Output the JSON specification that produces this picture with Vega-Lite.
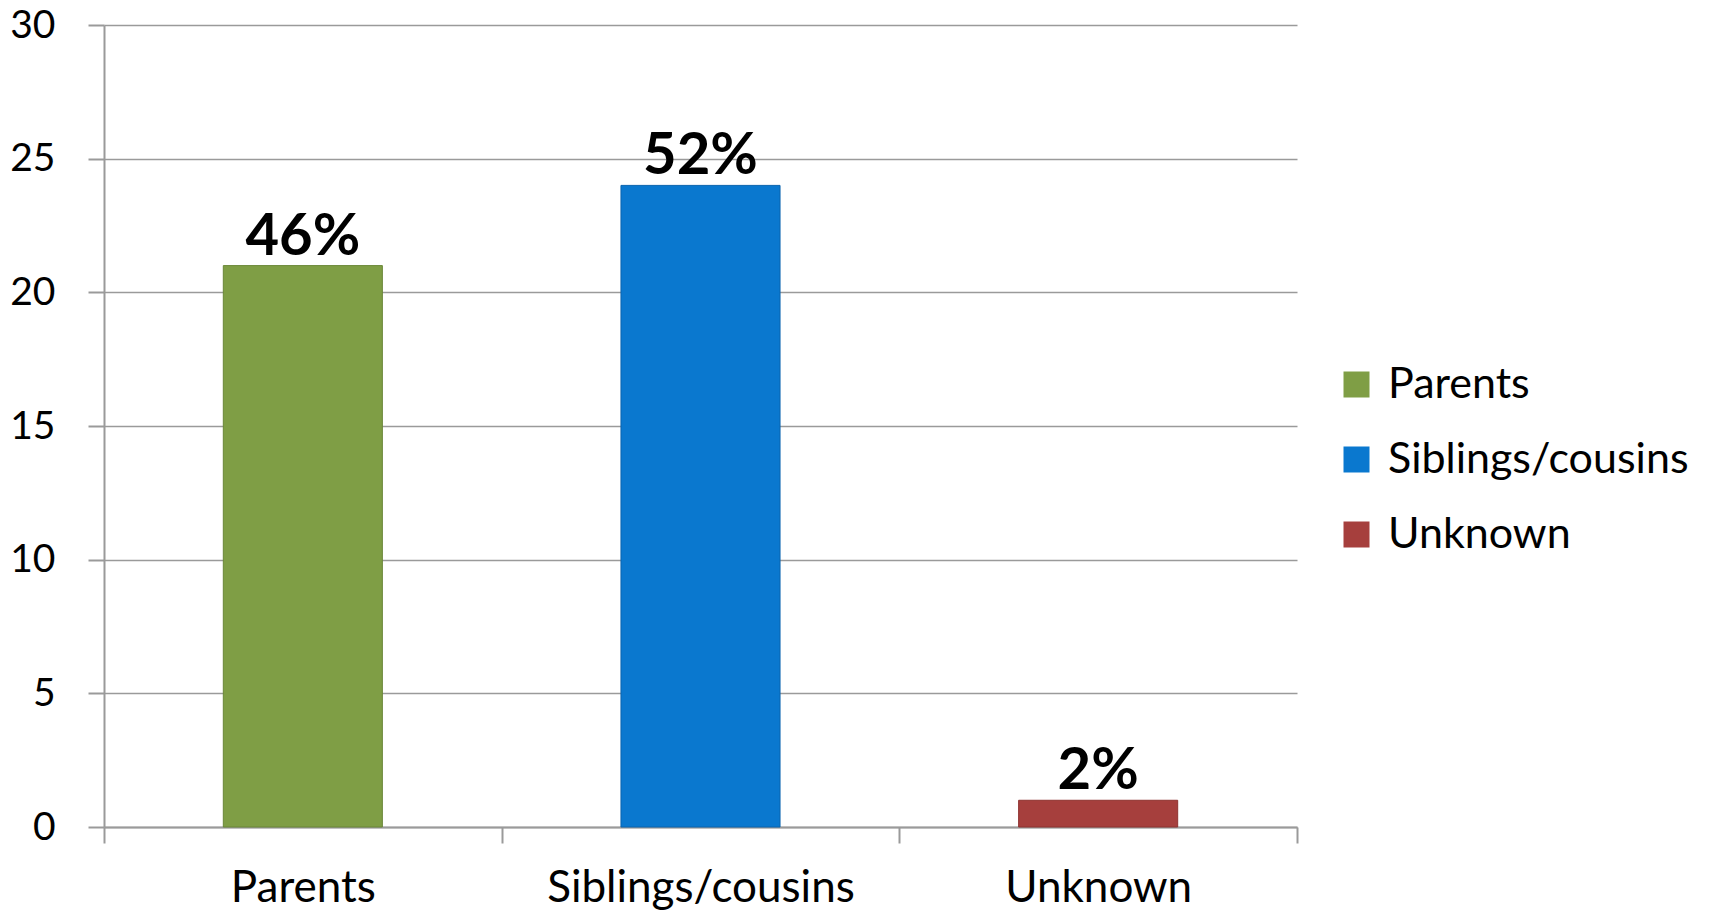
{
  "$schema": "https://vega.github.io/schema/vega-lite/v6.json",
  "autosize": "none",
  "width": 1193,
  "height": 802,
  "padding": {"left": 104, "top": 25, "right": 416, "bottom": 84},
  "background": "white",
  "config": {
    "font": "Lato",
    "view": {"stroke": null}
  },
  "data": {
    "values": [
      {"group": "Parents", "count": 21, "label": "46%"},
      {"group": "Siblings/cousins", "count": 24, "label": "52%"},
      {"group": "Unknown", "count": 1, "label": "2%"}
    ]
  },
  "encoding": {
    "x": {
      "field": "group",
      "type": "nominal",
      "sort": null,
      "title": null,
      "scale": {"paddingInner": 0, "paddingOuter": 0},
      "axis": {
        "labelAngle": 0,
        "labelFontSize": 44,
        "labelColor": "#000000",
        "labelPadding": 23,
        "labelLimit": 500,
        "domainColor": "#9a9a9a",
        "domainWidth": 2,
        "tickColor": "#9a9a9a",
        "tickWidth": 2,
        "tickSize": 16,
        "tickBand": "extent",
        "grid": false
      }
    },
    "y": {
      "field": "count",
      "type": "quantitative",
      "title": null,
      "scale": {"domain": [0, 30], "nice": false},
      "axis": {
        "values": [0, 5, 10, 15, 20, 25, 30],
        "labelFontSize": 39,
        "labelColor": "#000000",
        "labelPadding": 33,
        "domainColor": "#9a9a9a",
        "domainWidth": 2,
        "tickColor": "#9a9a9a",
        "tickWidth": 2,
        "tickSize": 16,
        "gridColor": "#9a9a9a",
        "gridWidth": 1.5,
        "gridOpacity": 1
      }
    }
  },
  "layer": [
    {
      "mark": {"type": "bar", "width": {"band": 0.4}, "strokeWidth": 1},
      "encoding": {
        "color": {
          "field": "group",
          "type": "nominal",
          "sort": null,
          "title": null,
          "scale": {
            "domain": ["Parents", "Siblings/cousins", "Unknown"],
            "range": ["#7F9E45", "#0A78CF", "#A63F3D"]
          },
          "legend": {
            "orient": "none",
            "legendX": 1231,
            "legendY": 338,
            "symbolType": "square",
            "symbolSize": 676,
            "symbolStrokeWidth": 0,
            "symbolOpacity": 1,
            "labelFontSize": 43,
            "labelColor": "#000000",
            "labelOffset": 10,
            "rowPadding": 31,
            "labelLimit": 500
          }
        },
        "stroke": {
          "field": "group",
          "type": "nominal",
          "sort": null,
          "scale": {
            "domain": ["Parents", "Siblings/cousins", "Unknown"],
            "range": ["#6A8738", "#0A64AE", "#8E3230"]
          },
          "legend": null
        }
      }
    },
    {
      "mark": {
        "type": "text",
        "baseline": "alphabetic",
        "dy": -11,
        "fontSize": 58,
        "fontWeight": "bold",
        "color": "#000000"
      },
      "encoding": {
        "text": {"field": "label"}
      }
    }
  ]
}
